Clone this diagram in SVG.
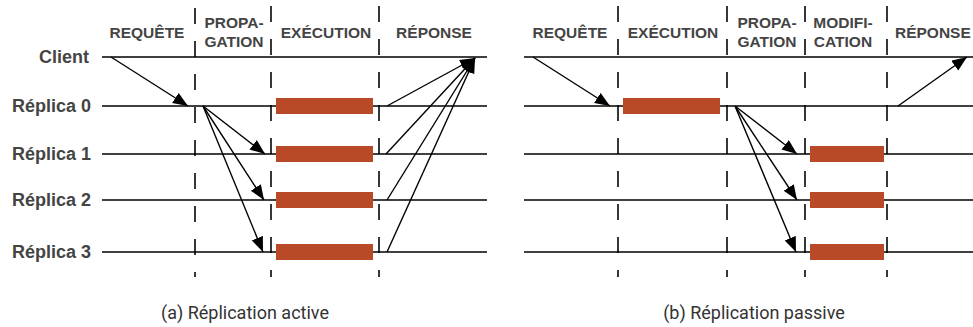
<svg xmlns="http://www.w3.org/2000/svg" width="973" height="327" viewBox="0 0 973 327">
  <defs>
    <marker id="head" markerUnits="userSpaceOnUse" markerWidth="17" markerHeight="13" refX="15" refY="6" orient="auto">
      <path d="M0,0 L15,6 L0,12 Z" fill="#000"/>
    </marker>
    <style>
      .lane { stroke: #000; stroke-width: 1.6; fill: none; }
      .phase { stroke: #222; stroke-width: 1.8; stroke-dasharray: 16 17; fill: none; }
      .msg { stroke: #000; stroke-width: 1.4; fill: none; marker-end: url(#head); }
      .bar { fill: #B84A28; }
      .hdr { font-family: "Liberation Sans", Arial, sans-serif; font-weight: bold; font-size: 15.5px; fill: #444; text-anchor: middle; }
      .row { font-family: "Liberation Sans", Arial, sans-serif; font-weight: bold; font-size: 18px; fill: #444; text-anchor: end; }
      .cap { font-family: Roboto, "Liberation Sans", sans-serif; font-size: 18px; fill: #333; text-anchor: middle; }
    </style>
  </defs>

  <!-- Row labels -->
  <g id="row-labels">
    <text class="row" x="89" y="63">Client</text>
    <text class="row" x="91" y="112">Réplica 0</text>
    <text class="row" x="91" y="160">Réplica 1</text>
    <text class="row" x="91" y="206">Réplica 2</text>
    <text class="row" x="91" y="258">Réplica 3</text>
  </g>

  <!-- (a) active replication -->
  <g id="active">
    <g id="active-headers">
      <text class="hdr" x="147" y="38">REQUÊTE</text>
      <text class="hdr" x="234" y="28">PROPA-</text>
      <text class="hdr" x="234" y="47">GATION</text>
      <text class="hdr" x="326" y="38">EXÉCUTION</text>
      <text class="hdr" x="434" y="38">RÉPONSE</text>
    </g>
    <g id="active-phases">
      <line class="phase" x1="195" y1="8" x2="195" y2="277"/>
      <line class="phase" x1="271" y1="6" x2="271" y2="277"/>
      <line class="phase" x1="379" y1="6" x2="379" y2="277"/>
    </g>
    <g id="active-lanes">
      <line class="lane" x1="102" y1="57" x2="487" y2="57"/>
      <line class="lane" x1="102" y1="106" x2="487" y2="106"/>
      <line class="lane" x1="102" y1="154" x2="487" y2="154"/>
      <line class="lane" x1="102" y1="200" x2="487" y2="200"/>
      <line class="lane" x1="102" y1="252" x2="487" y2="252"/>
    </g>
    <g id="active-exec">
      <rect class="bar" x="276" y="98" width="97" height="16"/>
      <rect class="bar" x="276" y="146" width="97" height="16"/>
      <rect class="bar" x="276" y="192" width="97" height="16"/>
      <rect class="bar" x="276" y="244" width="97" height="16"/>
    </g>
    <g id="active-connectors">
      <line class="msg" x1="111" y1="57" x2="188" y2="106"/>
      <line class="msg" x1="203" y1="106" x2="265" y2="154"/>
      <line class="msg" x1="203" y1="106" x2="264" y2="200"/>
      <line class="msg" x1="203" y1="106" x2="263" y2="252"/>
      <line class="msg" x1="387" y1="106" x2="475" y2="58"/>
      <line class="msg" x1="386" y1="154" x2="475" y2="58"/>
      <line class="msg" x1="387" y1="200" x2="475" y2="58"/>
      <line class="msg" x1="387" y1="252" x2="475" y2="58"/>
    </g>
    <text id="caption-a" class="cap" x="245" y="319">(a) Réplication active</text>
  </g>

  <!-- (b) passive replication -->
  <g id="passive">
    <g id="passive-headers">
      <text class="hdr" x="570" y="38">REQUÊTE</text>
      <text class="hdr" x="673" y="38">EXÉCUTION</text>
      <text class="hdr" x="767" y="28">PROPA-</text>
      <text class="hdr" x="767" y="47">GATION</text>
      <text class="hdr" x="843" y="28">MODIFI-</text>
      <text class="hdr" x="843" y="47">CATION</text>
      <text class="hdr" x="895" y="38" style="text-anchor:start">RÉPONSE</text>
    </g>
    <g id="passive-phases">
      <line class="phase" x1="618" y1="6" x2="618" y2="277"/>
      <line class="phase" x1="727" y1="6" x2="727" y2="277"/>
      <line class="phase" x1="805" y1="6" x2="805" y2="277"/>
      <line class="phase" x1="887" y1="6" x2="887" y2="277"/>
    </g>
    <g id="passive-lanes">
      <line class="lane" x1="524" y1="57" x2="973" y2="57"/>
      <line class="lane" x1="524" y1="106" x2="973" y2="106"/>
      <line class="lane" x1="524" y1="154" x2="973" y2="154"/>
      <line class="lane" x1="524" y1="200" x2="973" y2="200"/>
      <line class="lane" x1="524" y1="252" x2="973" y2="252"/>
    </g>
    <g id="passive-exec">
      <rect class="bar" x="623" y="98" width="97" height="16"/>
      <rect class="bar" x="810" y="146" width="74" height="16"/>
      <rect class="bar" x="810" y="192" width="74" height="16"/>
      <rect class="bar" x="810" y="244" width="74" height="16"/>
    </g>
    <g id="passive-connectors">
      <line class="msg" x1="533" y1="57" x2="610" y2="106"/>
      <line class="msg" x1="735" y1="106" x2="797" y2="154"/>
      <line class="msg" x1="735" y1="106" x2="797" y2="200"/>
      <line class="msg" x1="735" y1="106" x2="796" y2="252"/>
      <line class="msg" x1="898" y1="106" x2="967" y2="57"/>
    </g>
    <text id="caption-b" class="cap" x="754" y="319">(b) Réplication passive</text>
  </g>
</svg>
